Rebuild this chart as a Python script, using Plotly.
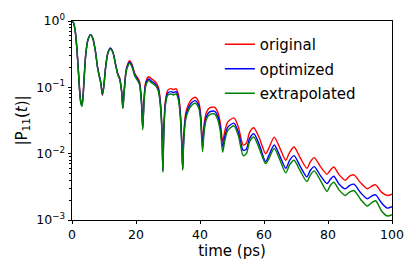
import numpy as np
import plotly.graph_objects as go

# time (ps)
time_ps = [0, 0.5, 1.0, 1.5, 2.0, 2.5, 2.8, 3.1, 3.4, 3.8, 4.3, 5.0, 5.8, 6.5, 7.3, 8.0, 8.5, 9.0, 9.5, 9.9,
           10.5, 11.2, 12.0, 12.8, 13.6, 14.3, 14.9, 15.5, 15.9, 16.3, 17.0, 18.0, 18.8, 19.6, 20.4, 21.1,
           21.7, 22.1, 22.5, 23.0, 23.9, 24.7, 25.4, 26.1, 27.0, 27.6, 28.1, 28.4, 28.7, 29.2, 29.9, 31.0,
           31.7, 32.5, 33.3, 33.9, 34.3, 34.6, 34.9, 35.5, 36.2, 37.2, 38.5, 39.6, 40.2, 40.8, 41.3, 42.0,
           43.0, 44.5, 45.5, 46.3, 47.1, 47.8, 48.7, 50.6, 52.0, 53.5, 54.5, 55.5, 56.8, 58.5, 60.5, 61.5,
           63.2, 65.0, 66.8, 68.0, 69.4, 71.3, 73.4, 74.5, 75.7, 77.7, 79.7, 80.7, 81.8, 83.5, 85.4, 86.7,
           88.1, 90.2, 92.3, 93.6, 94.9, 96.7, 98.5, 100]

# log10 |P11(t)|
log_original = [0.00, -0.03, -0.15, -0.40, -0.75, -1.10, -1.22, -1.24, -1.15, -0.85, -0.50, -0.28, -0.205, -0.26,
                -0.45, -0.70, -0.82, -0.93, -1.12, -1.00, -0.70, -0.48, -0.41, -0.47, -0.65, -0.79, -0.86, -1.05,
                -1.30, -1.05, -0.72, -0.60, -0.66, -0.79, -0.85, -0.91, -1.18, -1.60, -1.18, -0.93, -0.84, -0.865,
                -0.89, -0.92, -1.00, -1.20, -1.60, -2.25, -1.60, -1.20, -1.045, -1.02, -1.035, -1.02, -1.12, -1.40,
                -1.80, -2.22, -1.75, -1.40, -1.28, -1.19, -1.15, -1.22, -1.40, -1.85, -1.55, -1.38, -1.31, -1.30,
                -1.37, -1.52, -1.82, -1.65, -1.52, -1.46, -1.60, -1.87, -1.84, -1.68, -1.61, -1.76, -2.00, -1.92,
                -1.75, -1.92, -2.10, -1.98, -1.90, -2.06, -2.22, -2.12, -2.06, -2.20, -2.31, -2.25, -2.20, -2.32,
                -2.40, -2.34, -2.32, -2.44, -2.53, -2.49, -2.47, -2.58, -2.63, -2.61]
log_optimized = [0.00, -0.03, -0.15, -0.40, -0.76, -1.12, -1.24, -1.27, -1.17, -0.86, -0.50, -0.28, -0.205, -0.26,
                 -0.45, -0.70, -0.82, -0.93, -1.11, -1.00, -0.70, -0.48, -0.41, -0.47, -0.65, -0.80, -0.87, -1.06,
                 -1.31, -1.06, -0.73, -0.62, -0.68, -0.81, -0.87, -0.94, -1.21, -1.62, -1.21, -0.96, -0.875, -0.90,
                 -0.925, -0.955, -1.035, -1.24, -1.64, -2.26, -1.64, -1.24, -1.09, -1.065, -1.08, -1.065, -1.165,
                 -1.445, -1.84, -2.23, -1.79, -1.45, -1.33, -1.24, -1.20, -1.27, -1.45, -1.91, -1.61, -1.44, -1.37,
                 -1.36, -1.43, -1.59, -1.90, -1.73, -1.60, -1.54, -1.68, -1.95, -1.93, -1.77, -1.70, -1.86, -2.12,
                 -2.03, -1.87, -2.04, -2.22, -2.10, -2.03, -2.19, -2.35, -2.25, -2.195, -2.335, -2.45, -2.39, -2.34,
                 -2.46, -2.53, -2.48, -2.46, -2.59, -2.68, -2.64, -2.62, -2.74, -2.82, -2.80]
log_extrapolated = [0.00, -0.03, -0.15, -0.40, -0.77, -1.14, -1.25, -1.29, -1.19, -0.87, -0.51, -0.28, -0.21, -0.265,
                    -0.455, -0.71, -0.83, -0.94, -1.10, -1.01, -0.71, -0.49, -0.42, -0.48, -0.66, -0.81, -0.88, -1.07,
                    -1.32, -1.08, -0.75, -0.635, -0.70, -0.83, -0.89, -0.96, -1.24, -1.64, -1.24, -0.99, -0.90, -0.925,
                    -0.95, -0.975, -1.06, -1.27, -1.67, -2.28, -1.67, -1.27, -1.12, -1.10, -1.115, -1.10, -1.20, -1.48,
                    -1.87, -2.25, -1.83, -1.49, -1.37, -1.28, -1.24, -1.31, -1.50, -1.97, -1.66, -1.48, -1.41, -1.40,
                    -1.48, -1.65, -1.98, -1.79, -1.65, -1.58, -1.73, -2.03, -2.00, -1.82, -1.75, -1.92, -2.15, -2.08,
                    -1.92, -2.10, -2.29, -2.17, -2.10, -2.26, -2.42, -2.32, -2.26, -2.41, -2.57, -2.48, -2.43, -2.55,
                    -2.63, -2.58, -2.555, -2.69, -2.79, -2.74, -2.71, -2.86, -2.94, -2.92]

series_names = ["original", "optimized", "extrapolated"]
series_colors = ["#ff0000", "#0000ff", "#008000"]
y_tick_vals = [1, 0.1, 0.01, 0.001]
y_tick_text = ["10<sup>0</sup>", "10<sup>−1</sup>", "10<sup>−2</sup>", "10<sup>−3</sup>"]
y_minor_vals = [m * d for d in (0.001, 0.01, 0.1) for m in range(2, 10)]
x_tick_vals = [0, 20, 40, 60, 80, 100]

fig = go.Figure()
for name, logs, color in zip(series_names, [log_original, log_optimized, log_extrapolated], series_colors):
    fig.add_trace(go.Scatter(
        x=time_ps, y=10 ** np.array(logs), mode="lines", name=name, legendgroup=name,
        line=dict(color=color, width=1.4, shape="spline", smoothing=0.7),
    ))

font = "DejaVu Sans"
fig.update_layout(
    width=416, height=274,
    margin=dict(l=72, r=23, t=15, b=54),
    paper_bgcolor="white", plot_bgcolor="white",
    font=dict(family=font, size=12.5, color="black"),
    showlegend=True,
    legend=dict(x=0.462, y=0.965, xanchor="left", yanchor="top",
                bgcolor="rgba(0,0,0,0)", font=dict(size=15, family=font),
                tracegroupgap=2, itemwidth=30),
)
fig.update_xaxes(
    range=[0, 100], tickvals=x_tick_vals, ticks="outside", ticklen=3.5, tickwidth=0.8,
    tickcolor="black", showline=True, linecolor="black", linewidth=0.8, mirror=True,
    showgrid=False, zeroline=False, tickfont=dict(size=12.5),
    title=dict(text="time (ps)", font=dict(size=15, family=font), standoff=3),
)
fig.update_yaxes(
    type="log", range=[-3, 0], tickvals=y_tick_vals, ticktext=y_tick_text,
    ticks="outside", ticklen=3.5, tickwidth=0.8, tickcolor="black",
    showline=True, linecolor="black", linewidth=0.8, mirror=True,
    showgrid=False, zeroline=False, tickfont=dict(size=12.5),
    minor=dict(tickvals=y_minor_vals, ticks="outside", ticklen=2, tickwidth=0.6,
               tickcolor="black", showgrid=False),
    title=dict(text="|P<sub>11</sub>(<i>t</i>)|", font=dict(size=15, family=font), standoff=5),
)

fig.write_html("out.html", config={"displayModeBar": False})

# remove the browser's default page margin so the figure sits at the window origin
with open("out.html", encoding="utf-8") as f:
    html = f.read()
html = html.replace("<head>", "<head><style>html,body{margin:0;padding:0;overflow:hidden;}</style>", 1)
with open("out.html", "w", encoding="utf-8") as f:
    f.write(html)
